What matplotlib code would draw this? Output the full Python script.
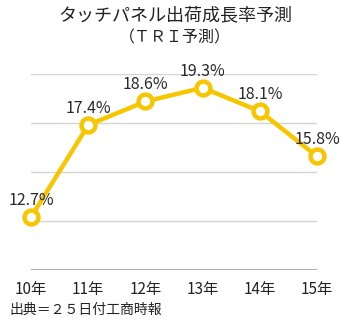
import matplotlib
matplotlib.use("Agg")
import matplotlib.pyplot as plt

plt.rcParams['font.family'] = ['Noto Sans CJK JP', 'DejaVu Sans']

years = ['10年', '11年', '12年', '13年', '14年', '15年']
growth = [12.7, 17.4, 18.6, 19.3, 18.1, 15.8]
grid_levels = [12.5, 15, 17.5, 20]

yellow = '#F7C600'

fig = plt.figure(figsize=(3.5, 3.22), dpi=100)
ax = fig.add_axes([0.0886, 0.1615, 0.8174, 0.6085])

x = list(range(len(years)))
for g in grid_levels:
    ax.axhline(g, color='#d4d4d4', linewidth=1.0, zorder=0)
ax.axhline(10, color='#a0a0a0', linewidth=1.2, zorder=0)

ax.plot(x, growth, color=yellow, linewidth=3.2, marker='o', markersize=10,
        markerfacecolor='white', markeredgecolor=yellow, markeredgewidth=3.2,
        clip_on=False, zorder=3)

for xi, v in zip(x, growth):
    ax.annotate(f'{v}%', (xi, v), xytext=(0, 12), textcoords='offset points',
                ha='center', va='center', fontsize=11.5,
                color='#2a2a2a', zorder=4)

ax.set_xlim(0, len(years) - 1)
ax.set_ylim(10, 20)
ax.set_xticks(x)
ax.set_xticklabels(years, fontsize=11, color='#222222')
ax.tick_params(axis='x', length=0, pad=8)
ax.set_yticks([])
for s in ax.spines.values():
    s.set_visible(False)

fig.text(0.5, 1 - 15 / 322, 'タッチパネル出荷成長率予測', ha='center', va='center',
         fontsize=13, color='#222222')
fig.text(0.5, 1 - 38 / 322, '（ＴＲＩ予測）', ha='center', va='center',
         fontsize=11.5, color='#222222')
fig.text(9 / 350, 1 - 310 / 322, '出典＝２５日付工商時報', ha='left', va='center',
         fontsize=10, color='#222222')

fig.savefig('out.png', dpi=100, facecolor='white')
